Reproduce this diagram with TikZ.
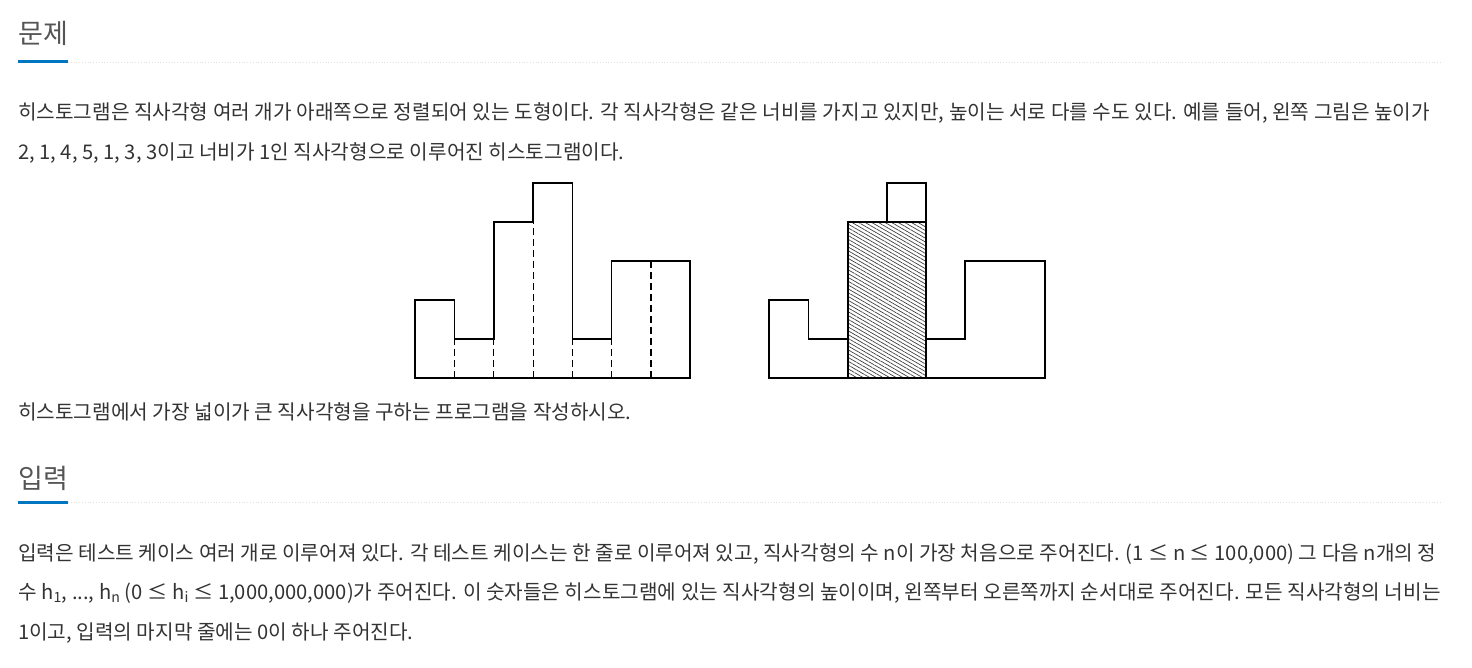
\documentclass[tikz,border=0pt]{standalone}
\usepackage{fontspec}
\setmainfont{Noto Sans CJK KR}
\usetikzlibrary{patterns.meta}
\definecolor{textgray}{HTML}{333333}
\definecolor{headgray}{HTML}{555555}
\definecolor{barblue}{HTML}{0076C0}
\newcommand{\bodyfont}{\fontsize{20.2}{24}\selectfont}
\newcommand{\headfont}{\fontsize{27}{32}\selectfont}
\tikzset{x=1pt, y=-1pt,
body/.style={ % Paragraph lines
anchor=base west,
inner sep=0pt,
font=\bodyfont,
text=textgray},
heading/.style={ % Section titles
anchor=base west,
inner sep=0pt,
font=\headfont,
text=headgray},
outline/.style={ % Histogram contour
draw=black,
line width=1.3pt,
line join=miter},
splitline/.style={ % Bar boundaries
draw=black,
line width=1.1pt,
dash pattern=on 7pt off 4pt}}

\begin{document}
\begin{tikzpicture}
	\useasboundingbox (0,0) rectangle (1472,668);
	% section 1
	\node[heading] (h1) at (18,44) {문제};
	\draw[gray!25, line width=0.8pt, dotted] (68,62) -- (1442,62);
	\draw[barblue, line width=3pt] (18,62) -- (68,62);
	\node[body] (p1) at (18,120) {히스토그램은 직사각형 여러 개가 아래쪽으로 정렬되어 있는 도형이다. 각 직사각형은 같은 너비를 가지고 있지만, 높이는 서로 다를 수도 있다. 예를 들어, 왼쪽 그림은 높이가};
	\node[body] (p2) at (18,160) {2, 1, 4, 5, 1, 3, 3이고 너비가 1인 직사각형으로 이루어진 히스토그램이다.};
	% left histogram
	\foreach \xx/\yy in {454.6/339, 493.9/339, 533.1/222, 572.4/339, 611.7/339, 651/261}
		\draw[splitline] (\xx,378) -- (\xx,\yy);
	\draw[outline] (415,378) -- (415,300) -- (454.6,300) -- (454.6,339) -- (493.9,339)
		-- (493.9,222) -- (533.1,222) -- (533.1,183) -- (572.4,183) -- (572.4,339)
		-- (611.7,339) -- (611.7,261) -- (690,261) -- (690,378) -- cycle;
	% right histogram
	\fill[pattern={Lines[angle=-30, distance=3.3pt, line width=0.7pt]}, pattern color=black!75] (848,222) rectangle (926,378);
	\draw[outline] (769,378) -- (769,300) -- (808.3,300) -- (808.3,339) -- (848,339)
		-- (848,222) -- (887,222) -- (887,183) -- (926,183) -- (926,339)
		-- (965,339) -- (965,261) -- (1045,261) -- (1045,378) -- cycle;
	\draw[outline] (848,222) rectangle (926,378);
	\node[body] (p3) at (18,419) {히스토그램에서 가장 넓이가 큰 직사각형을 구하는 프로그램을 작성하시오.};
	% section 2
	\node[heading] (h2) at (18,488) {입력};
	\draw[gray!25, line width=0.8pt, dotted] (68,502) -- (1442,502);
	\draw[barblue, line width=3pt] (18,502) -- (68,502);
	\node[body] (p4) at (18,560) {입력은 테스트 케이스 여러 개로 이루어져 있다. 각 테스트 케이스는 한 줄로 이루어져 있고, 직사각형의 수 n이 가장 처음으로 주어진다. (1 ≤ n ≤ 100,000) 그 다음 n개의 정};
	\node[body] (p5) at (18,599) {수 h\textsubscript{1}, ..., h\textsubscript{n} (0 ≤ h\textsubscript{i} ≤ 1,000,000,000)가 주어진다. 이 숫자들은 히스토그램에 있는 직사각형의 높이이며, 왼쪽부터 오른쪽까지 순서대로 주어진다. 모든 직사각형의 너비는};
	\node[body] (p6) at (18,639) {1이고, 입력의 마지막 줄에는 0이 하나 주어진다.};
\end{tikzpicture}
\end{document}
